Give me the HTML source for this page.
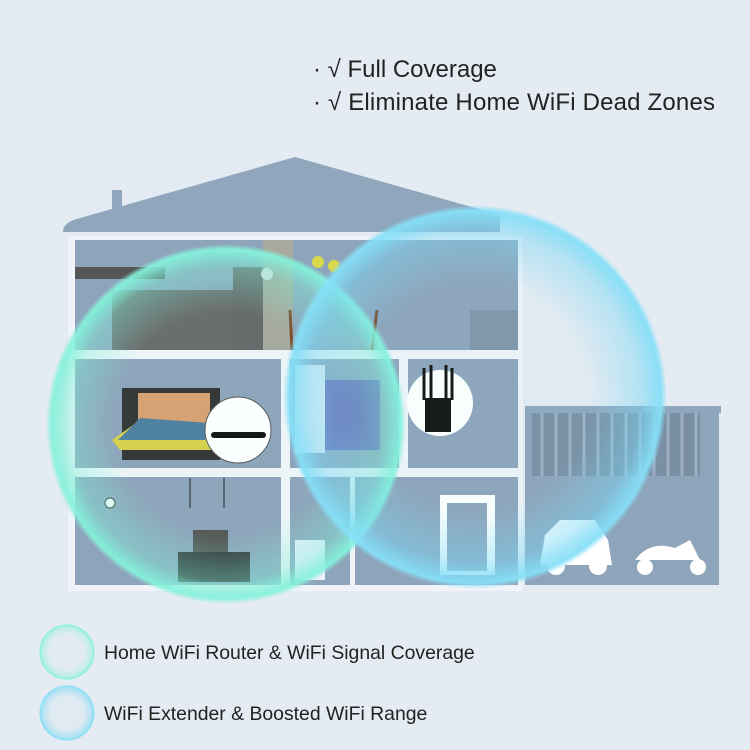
<!DOCTYPE html><html><head><style>body{margin:0;background:#e5ebf2}svg{display:block}</style></head><body>
<svg width="750" height="750" viewBox="0 0 750 750" xmlns="http://www.w3.org/2000/svg">
<defs>
<radialGradient id="g" cx="0.5" cy="0.5" r="0.5"><stop offset="0.62" stop-color="#7ff0d8" stop-opacity="0.03"/><stop offset="0.87" stop-color="#7ff0d8" stop-opacity="0.4"/><stop offset="0.97" stop-color="#86f2dc" stop-opacity="0.95"/><stop offset="1" stop-color="#86f2dc" stop-opacity="0"/></radialGradient>
<radialGradient id="b" cx="0.5" cy="0.5" r="0.5"><stop offset="0.6" stop-color="#7ad8f5" stop-opacity="0.05"/><stop offset="0.86" stop-color="#7ad8f5" stop-opacity="0.45"/><stop offset="0.97" stop-color="#86e0f8" stop-opacity="0.95"/><stop offset="1" stop-color="#86e0f8" stop-opacity="0"/></radialGradient>
</defs>
<rect width="750" height="750" fill="#e5ebf2"/>
<g font-family="Liberation Sans, sans-serif" font-size="24" fill="#222">
<text x="313" y="77">· √ Full Coverage</text>
<text x="313" y="110" textLength="402">· √ Eliminate Home WiFi Dead Zones</text>
</g>
<rect x="112" y="190" width="10" height="20" fill="#8fa6bc"/>
<path d="M63 232 Q63 222 80 218 L295 157 L500 215 L500 232 Z" fill="#8fa6bc"/>
<rect x="68" y="236" width="455" height="355" fill="#f0f4f8"/>
<g fill="#8ea4ba">
<rect x="75" y="240" width="443" height="110"/>
<rect x="75" y="359" width="206" height="109"/>
<rect x="290" y="359" width="109" height="109"/>
<rect x="408" y="359" width="110" height="109"/>
<rect x="75" y="477" width="206" height="108"/>
<rect x="290" y="477" width="60" height="108"/>
<rect x="355" y="477" width="163" height="108"/>
</g>
<rect x="525" y="406" width="196" height="7" fill="#8fa6bc"/>
<rect x="525" y="413" width="194" height="172" fill="#8ea4ba"/>
<g fill="#7a8fa3"><rect x="532" y="413" width="168" height="63"/></g>
<g stroke="#9db0c3" stroke-width="3"><path d="M542 413V476M556 413V476M570 413V476M584 413V476M598 413V476M612 413V476M626 413V476M640 413V476M654 413V476M668 413V476M682 413V476M696 413V476"/></g>
<path d="M540 565 L545 535 L560 520 L595 520 L608 540 L612 565 Z" fill="#fff"/>
<circle cx="556" cy="566" r="9" fill="#fff"/><circle cx="598" cy="566" r="9" fill="#fff"/>
<path d="M635 560 Q650 540 675 548 L690 540 L700 560 Z" fill="#fff"/>
<circle cx="645" cy="567" r="8" fill="#fff"/><circle cx="698" cy="567" r="8" fill="#fff"/>
<rect x="75" y="267" width="90" height="12" fill="#555"/>
<rect x="112" y="290" width="160" height="60" fill="#6a6a6a"/>
<rect x="233" y="267" width="30" height="83" fill="#666"/>
<rect x="263" y="240" width="30" height="110" fill="#a8a89c"/>
<circle cx="267" cy="274" r="6" fill="#ddd"/>
<g stroke="#7a4a2a" stroke-width="3" fill="none"><path d="M290 310 L292 350M377 310 L372 350"/></g>
<circle cx="318" cy="262" r="6" fill="#d8d84a"/><circle cx="334" cy="266" r="6" fill="#d8d84a"/>
<rect x="470" y="310" width="48" height="40" fill="#7f95a8"/>
<rect x="122" y="388" width="98" height="72" fill="#333"/>
<rect x="138" y="393" width="72" height="30" fill="#d9a070"/>
<path d="M112 440 L140 420 L215 425 L215 450 L120 450 Z" fill="#d8d04a"/>
<path d="M118 440 L140 418 L210 423 L205 440 Z" fill="#4e7ea0"/>
<circle cx="238" cy="430" r="33" fill="#fff" stroke="#555"/>
<rect x="211" y="432" width="55" height="6" rx="3" fill="#111"/>
<rect x="295" y="365" width="30" height="88" fill="#e6eef5"/>
<rect x="325" y="380" width="55" height="70" fill="#6a6fb8"/>
<circle cx="440" cy="403" r="33" fill="#fff"/>
<rect x="425" y="398" width="26" height="34" fill="#111"/>
<path d="M424 368V400M431 365V400M446 365V400M452 368V400" stroke="#111" stroke-width="3"/>
<rect x="178" y="552" width="72" height="30" fill="#333"/>
<rect x="193" y="530" width="35" height="22" fill="#555"/>
<circle cx="110" cy="503" r="5" fill="#fff" stroke="#333"/>
<path d="M190 478V508M224 478V508" stroke="#222"/>
<rect x="440" y="495" width="55" height="80" fill="#fff"/><rect x="447" y="503" width="40" height="68" fill="#8ea4ba"/>
<rect x="295" y="540" width="30" height="40" fill="#eef"/>
<circle cx="226" cy="424" r="180" fill="url(#g)"/>
<circle cx="475" cy="397" r="192" fill="url(#b)"/>
<circle cx="67" cy="652" r="28" fill="url(#g)"/>
<circle cx="67" cy="713" r="28" fill="url(#b)"/>
<g font-family="Liberation Sans, sans-serif" font-size="19.4" fill="#222">
<text x="104" y="659">Home WiFi Router &amp; WiFi Signal Coverage</text>
<text x="104" y="720">WiFi Extender &amp; Boosted WiFi Range</text>
</g>
</svg></body></html>
